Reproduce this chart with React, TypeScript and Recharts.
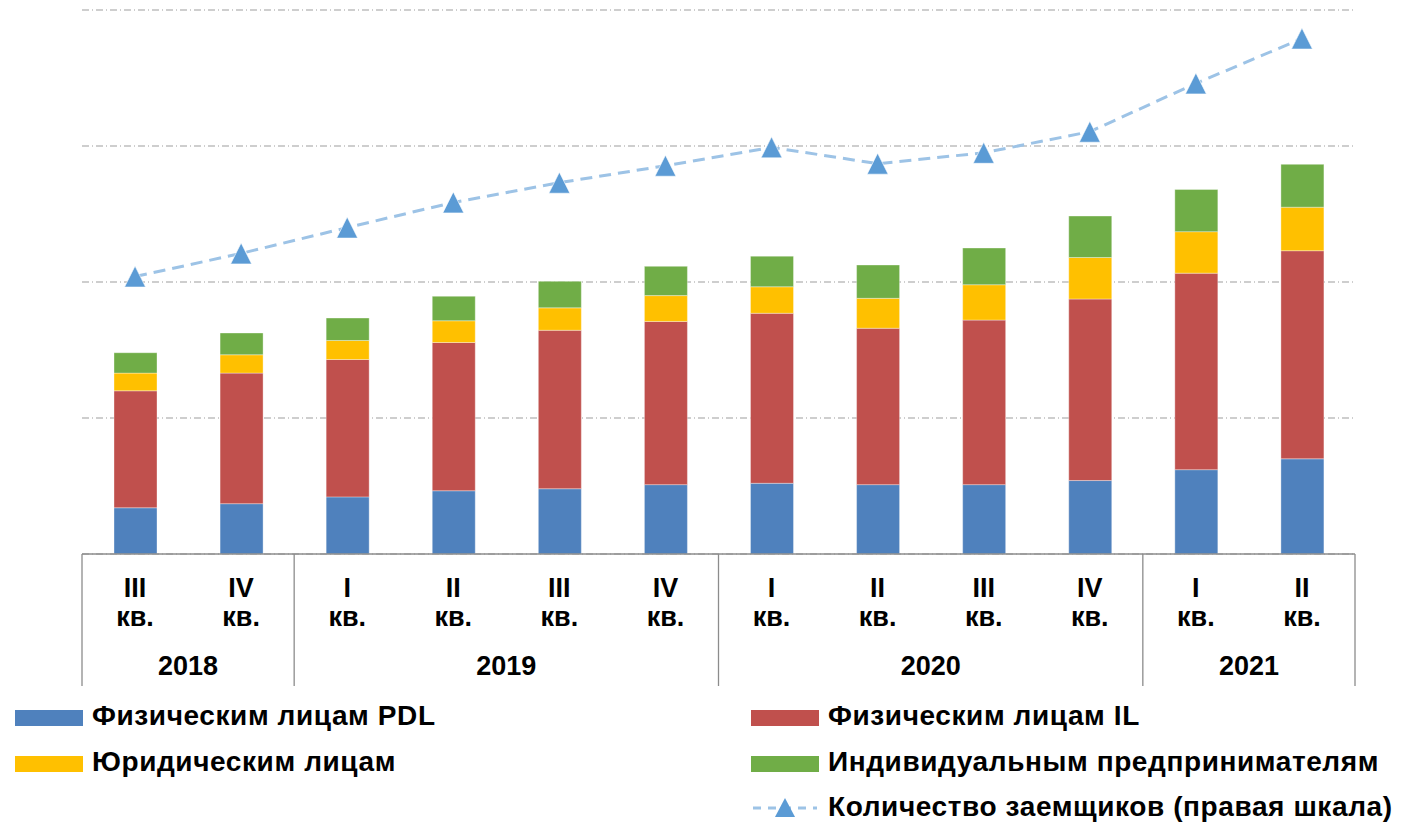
import React from "react";
import { Bar, CartesianGrid, ComposedChart, Line, XAxis, YAxis } from "recharts";

const quarters = ["III", "IV", "I", "II", "III", "IV", "I", "II", "III", "IV", "I", "II"];
const years = ["2018", "2018", "2019", "2019", "2019", "2019", "2020", "2020", "2020", "2020", "2021", "2021"];

const pdl = [34, 37, 42, 46.5, 48, 51, 52, 51, 51, 54, 62, 70];
const il = [86, 96, 101, 109, 116.5, 120, 125, 115, 121, 133.5, 144.5, 153];
const legal = [13, 13.5, 14, 16, 16.5, 19, 19.5, 22, 26, 30.5, 30.5, 32];
const ip = [15, 16, 16.5, 18, 19.5, 21.5, 22.5, 24.5, 27, 30.5, 31, 31.5];
const borrowers = [2040, 2210, 2400, 2585, 2730, 2855, 2990, 2870, 2950, 3105, 3460, 3790];

const leftTicks = [0, 100, 200, 300, 400];
const rightTicks = [0, 1000, 2000, 3000, 4000];

const W = 1404;
const MARGIN = { top: 10, right: 49, bottom: 0, left: 82 };
const BAND = (W - MARGIN.left - MARGIN.right) / quarters.length;
const FONT = "'Liberation Sans', Arial, sans-serif";
const AXIS_GRAY = "#8c8c8c";

const data = quarters.map((q, i) => ({
  key: `${years[i]}-${q}`,
  pdl: pdl[i],
  il: il[i],
  legal: legal[i],
  ip: ip[i],
  borrowers: borrowers[i]
}));

function QuarterTick(props: any) {
  const { x, y, index } = props;
  const first = index === 0 || years[index] !== years[index - 1];
  const last = index === quarters.length - 1;
  let groupSize = 1;
  while (index + groupSize < years.length && years[index + groupSize] === years[index]) groupSize++;
  const labelStyle = { fontFamily: FONT, fontWeight: 700, fontSize: 27, fill: "#000" };
  return (
    <g>
      <text x={x} y={y + 43} textAnchor="middle" style={labelStyle}>{quarters[index]}</text>
      <text x={x} y={y + 72} textAnchor="middle" style={labelStyle}>кв.</text>
      {first && (
        <line x1={x - BAND / 2} x2={x - BAND / 2} y1={y} y2={y + 132} stroke={AXIS_GRAY} strokeWidth={1.3} />
      )}
      {last && (
        <line x1={x + BAND / 2} x2={x + BAND / 2} y1={y} y2={y + 132} stroke={AXIS_GRAY} strokeWidth={1.3} />
      )}
      {first && (
        <text x={x + ((groupSize - 1) * BAND) / 2} y={y + 121} textAnchor="middle" style={labelStyle}>
          {years[index]}
        </text>
      )}
    </g>
  );
}

function TriangleDot(props: any) {
  const { cx, cy, index } = props;
  if (cx == null || cy == null) return <g key={index} />;
  const h = 10.5;
  return (
    <polygon
      key={index}
      points={`${cx},${cy - h} ${cx - h},${cy + h} ${cx + h},${cy + h}`}
      fill="#5B9BD5"
      stroke="#ffffff"
      strokeWidth={0.6}
    />
  );
}

const legendItems = [
  { label: "Физическим лицам PDL", color: "#4F81BD", left: 15, top: 708 },
  { label: "Физическим лицам IL", color: "#C0504D", left: 751, top: 708 },
  { label: "Юридическим лицам", color: "#FFC000", left: 15, top: 754 },
  { label: "Индивидуальным предпринимателям", color: "#70AD47", left: 751, top: 754 }
];

function LegendBlock() {
  const textStyle: React.CSSProperties = {
    position: "absolute",
    fontFamily: FONT,
    fontWeight: 700,
    fontSize: 28,
    letterSpacing: 0.6,
    lineHeight: "30px",
    color: "#000",
    whiteSpace: "nowrap"
  };
  return (
    <>
      {legendItems.map((it) => (
        <React.Fragment key={it.label}>
          <div style={{ position: "absolute", left: it.left, top: it.top + 2, width: 68, height: 16, background: it.color }} />
          <div style={{ ...textStyle, left: it.left + 77, top: it.top - 7 }}>{it.label}</div>
        </React.Fragment>
      ))}
      <svg style={{ position: "absolute", left: 751, top: 796 }} width={70} height={24}>
        <line x1={2} x2={66} y1={12} y2={12} stroke="#9DC3E6" strokeWidth={3} strokeDasharray="8 7" />
        <polygon points="34,2 24,21 44,21" fill="#5B9BD5" />
      </svg>
      <div style={{ ...textStyle, left: 828, top: 792 }}>Количество заемщиков (правая шкала)</div>
    </>
  );
}

export default function App() {
  return (
    <div style={{ position: "absolute", left: 0, top: 0, width: W, height: 828, background: "#fff" }}>
      <ComposedChart width={W} height={690} data={data} margin={MARGIN} barSize={43}>
        <CartesianGrid
          vertical={false}
          yAxisId="left"
          stroke="#bfbfbf"
          strokeWidth={1.3}
          strokeDasharray="7 3 1 3"
        />
        <XAxis
          dataKey="key"
          interval={0}
          height={136}
          tickSize={0}
          tickMargin={0}
          tickLine={false}
          axisLine={{ stroke: AXIS_GRAY, strokeWidth: 1.3 }}
          tick={<QuarterTick />}
        />
        <YAxis yAxisId="left" hide domain={[0, 400]} ticks={leftTicks} />
        <YAxis yAxisId="right" orientation="right" hide domain={[0, 4000]} ticks={rightTicks} />
        <Bar yAxisId="left" dataKey="pdl" stackId="a" fill="#4F81BD" stroke="#ffffff" strokeOpacity={0.35} isAnimationActive={false} />
        <Bar yAxisId="left" dataKey="il" stackId="a" fill="#C0504D" stroke="#ffffff" strokeOpacity={0.35} isAnimationActive={false} />
        <Bar yAxisId="left" dataKey="legal" stackId="a" fill="#FFC000" stroke="#ffffff" strokeOpacity={0.35} isAnimationActive={false} />
        <Bar yAxisId="left" dataKey="ip" stackId="a" fill="#70AD47" stroke="#ffffff" strokeOpacity={0.35} isAnimationActive={false} />
        <Line
          yAxisId="right"
          dataKey="borrowers"
          stroke="#9DC3E6"
          strokeWidth={3}
          strokeDasharray="12 7"
          dot={TriangleDot}
          activeDot={false}
          isAnimationActive={false}
        />
      </ComposedChart>
      <LegendBlock />
    </div>
  );
}
